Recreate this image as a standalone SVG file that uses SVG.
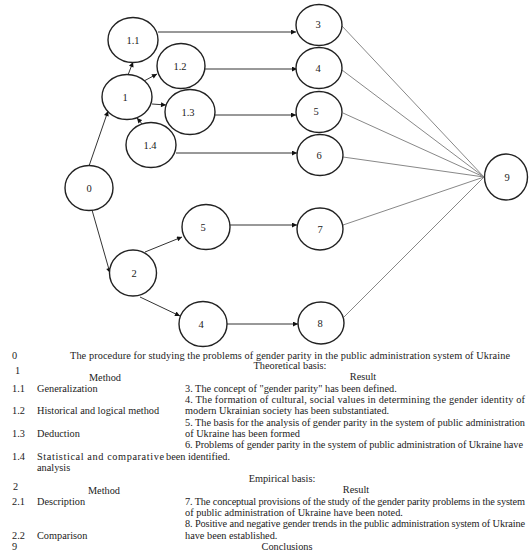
<svg xmlns="http://www.w3.org/2000/svg" width="529" height="558" viewBox="0 0 529 558">
<style>
.n{fill:#fff;stroke:#222;stroke-width:1.4}
.l{font-family:"Liberation Serif","Times New Roman",serif;font-size:10.5px;fill:#222;text-anchor:middle}
.a{stroke:#333;stroke-width:1;fill:none}
.g{stroke:#888;stroke-width:1;fill:none}
.t{font-family:"Liberation Serif","Times New Roman",serif;font-size:10.3px;fill:#222}
.c{text-anchor:middle}
</style>
<defs>
<marker id="ah" viewBox="0 0 10 10" refX="10" refY="5" markerWidth="7" markerHeight="5" orient="auto" markerUnits="userSpaceOnUse"><path d="M0,0 L10,5 L0,10 z" fill="#111"/></marker>
</defs>
<rect width="529" height="558" fill="#fff"/>
<g id="connectors">
<line class="a" x1="89" y1="166" x2="108" y2="111" marker-end="url(#ah)"/>
<line class="a" x1="128" y1="75" x2="133" y2="62" marker-end="url(#ah)"/>
<line class="a" x1="144" y1="81" x2="157" y2="74" marker-end="url(#ah)"/>
<line class="a" x1="152" y1="104" x2="166" y2="105" marker-end="url(#ah)"/>
<line class="a" x1="143" y1="125" x2="137" y2="118" marker-end="url(#ah)"/>
<line class="a" x1="92" y1="210" x2="110" y2="273" marker-end="url(#ah)"/>
<line class="a" x1="145" y1="252" x2="182" y2="237" marker-end="url(#ah)"/>
<line class="a" x1="140" y1="297" x2="180" y2="316" marker-end="url(#ah)"/>
<line class="a" x1="158" y1="32" x2="296" y2="32" marker-end="url(#ah)"/>
<line class="a" x1="205" y1="69" x2="297" y2="69" marker-end="url(#ah)"/>
<line class="a" x1="215" y1="115" x2="296" y2="115" marker-end="url(#ah)"/>
<line class="a" x1="176" y1="153" x2="297" y2="153" marker-end="url(#ah)"/>
<line class="a" x1="230" y1="225" x2="297" y2="225" marker-end="url(#ah)"/>
<line class="a" x1="227" y1="324" x2="298" y2="324" marker-end="url(#ah)"/>
<line class="g" x1="342" y1="26" x2="484" y2="177"/>
<line class="g" x1="342" y1="70" x2="484" y2="177"/>
<line class="g" x1="343" y1="113" x2="484" y2="177"/>
<line class="g" x1="343" y1="157" x2="484" y2="177"/>
<line class="g" x1="343" y1="225" x2="484" y2="177"/>
<line class="g" x1="344" y1="317" x2="484" y2="177"/>
</g>
<g id="n0"><ellipse class="n" cx="89" cy="188" rx="24" ry="22.5"/><text class="l" x="89" y="191.5">0</text></g>
<g id="n1"><ellipse class="n" cx="127" cy="97" rx="25" ry="22.5"/><text class="l" x="125" y="100.5">1</text></g>
<g id="n1_1"><ellipse class="n" cx="133" cy="40" rx="25" ry="22.5"/><text class="l" x="133" y="43.5">1.1</text></g>
<g id="n1_2"><ellipse class="n" cx="181" cy="66" rx="24" ry="22.5"/><text class="l" x="180" y="69.5">1.2</text></g>
<g id="n1_3"><ellipse class="n" cx="190" cy="112" rx="25" ry="22.5"/><text class="l" x="188" y="115.5">1.3</text></g>
<g id="n1_4"><ellipse class="n" cx="151" cy="145" rx="25" ry="22.5"/><text class="l" x="150" y="148.5">1.4</text></g>
<g id="n3"><ellipse class="n" cx="319" cy="25" rx="23" ry="20.5"/><text class="l" x="318" y="28">3</text></g>
<g id="n4"><ellipse class="n" cx="319" cy="68" rx="23" ry="20.5"/><text class="l" x="318" y="72">4</text></g>
<g id="n5"><ellipse class="n" cx="319" cy="112" rx="23" ry="20.5"/><text class="l" x="316" y="115">5</text></g>
<g id="n6"><ellipse class="n" cx="320" cy="155" rx="23" ry="20.5"/><text class="l" x="319" y="158.5">6</text></g>
<g id="n9"><ellipse class="n" cx="506" cy="177" rx="21.5" ry="23"/><text class="l" x="507" y="180.5">9</text></g>
<g id="n2"><ellipse class="n" cx="133" cy="273" rx="23.5" ry="23"/><text class="l" x="134" y="277">2</text></g>
<g id="n5b"><ellipse class="n" cx="206" cy="227" rx="24" ry="22.5"/><text class="l" x="203" y="230.5">5</text></g>
<g id="n4b"><ellipse class="n" cx="203" cy="324" rx="24" ry="22.5"/><text class="l" x="201" y="327.5">4</text></g>
<g id="n7"><ellipse class="n" cx="320" cy="229" rx="23" ry="21"/><text class="l" x="320" y="232.5">7</text></g>
<g id="n8"><ellipse class="n" cx="321" cy="323" rx="23" ry="21"/><text class="l" x="320" y="326.5">8</text></g>
<g id="table">
<text class="t" x="12" y="358.5">0</text>
<text class="t" x="70" y="358.5" textLength="440" lengthAdjust="spacing">The procedure for studying the problems of gender parity in the public administration system of Ukraine</text>
<text class="t c" x="290" y="368.5">Theoretical basis:</text>
<text class="t" x="15" y="373.5">1</text>
<text class="t c" x="105" y="380.5">Method</text>
<text class="t c" x="363" y="380">Result</text>
<text class="t" x="12" y="391.5">1.1</text>
<text class="t" x="37" y="391.5">Generalization</text>
<text class="t" x="185" y="391.5">3. The concept of "gender parity" has been defined.</text>
<text class="t" x="185" y="403" textLength="340" lengthAdjust="spacing">4. The formation of cultural, social values in determining the gender identity of</text>
<text class="t" x="12" y="414.3">1.2</text>
<text class="t" x="37" y="414.3">Historical and logical method</text>
<text class="t" x="185" y="414.3">modern Ukrainian society has been substantiated.</text>
<text class="t" x="185" y="425.6" textLength="340" lengthAdjust="spacing">5. The basis for the analysis of gender parity in the system of public administration</text>
<text class="t" x="12" y="436.9">1.3</text>
<text class="t" x="37" y="436.9">Deduction</text>
<text class="t" x="185" y="436.9">of Ukraine has been formed</text>
<text class="t" x="185" y="448.2" textLength="338" lengthAdjust="spacing">6. Problems of gender parity in the system of public administration of Ukraine have</text>
<text class="t" x="12" y="459.5">1.4</text>
<text class="t" x="37" y="459.5" textLength="127" lengthAdjust="spacing">Statistical and comparative</text>
<text class="t" x="166" y="459.5">been identified.</text>
<text class="t" x="37" y="470.8">analysis</text>
<text class="t c" x="282" y="482.1">Empirical basis:</text>
<text class="t" x="13" y="489.5">2</text>
<text class="t c" x="104" y="494">Method</text>
<text class="t c" x="356" y="493.4">Result</text>
<text class="t" x="12" y="504.7">2.1</text>
<text class="t" x="37" y="504.7">Description</text>
<text class="t" x="185" y="504.7" textLength="340" lengthAdjust="spacing">7. The conceptual provisions of the study of the gender parity problems in the system</text>
<text class="t" x="185" y="516">of public administration of Ukraine have been noted.</text>
<text class="t" x="185" y="527.3" textLength="340" lengthAdjust="spacing">8. Positive and negative gender trends in the public administration system of Ukraine</text>
<text class="t" x="12" y="538.6">2.2</text>
<text class="t" x="37" y="538.6">Comparison</text>
<text class="t" x="185" y="538.6">have been established.</text>
<text class="t" x="12" y="549.9">9</text>
<text class="t c" x="287" y="549.9">Conclusions</text>
</g>
</svg>
